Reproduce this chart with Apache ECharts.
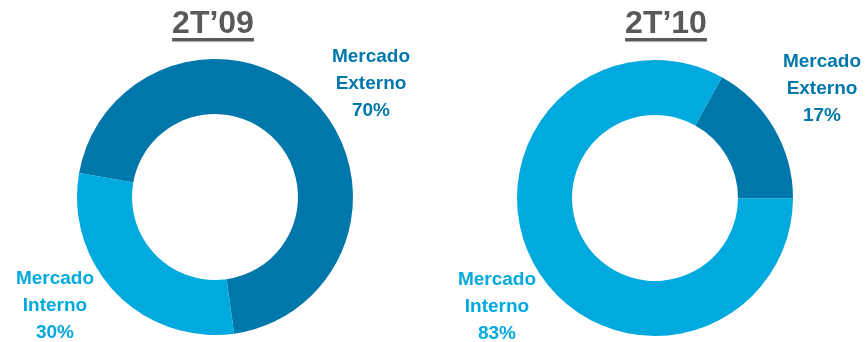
<!DOCTYPE html>
<html lang="pt">

<head>
  <meta charset="UTF-8">
  <title>Mercado</title>
  <style>
    html,
    body {
      width: 100%;
      height: 100%;
      padding: 0;
      margin: 0;
      background: #fff;
    }

    #eChart {
      width: 866px;
      height: 342px;
    }
  </style>
</head>

<body>
  <div id="eChart"></div>

  <script src="https://cdn.jsdelivr.net/npm/echarts@6/dist/echarts.min.js"></script>
  <script>
    // dados
    var periods = ['2T\u201909', '2T\u201910'];
    var categories = ['Mercado Externo', 'Mercado Interno'];
    var externo = [70, 17];
    var interno = [30, 83];

    var darkBlue = '#0077AA';
    var lightBlue = '#00A9DE';
    var font = 'Arial, "Liberation Sans", sans-serif';

    // layout of each donut and where its labels sit
    var pies = [
      { center: [215, 197], startAngle: 170, labels: [[371, 84], [55, 306]], titleX: 213 },
      { center: [655, 198], startAngle: 61, labels: [[822, 89], [497, 307]], titleX: 666 }
    ];

    var chart = echarts.init(document.getElementById('eChart'), null, { renderer: 'canvas' });

    var ctx = document.createElement('canvas').getContext('2d');
    ctx.font = 'bold 32px ' + font;

    var series = [];
    var graphic = [];

    periods.forEach(function (p, i) {
      var cfg = pies[i];
      series.push({
        type: 'pie',
        center: cfg.center,
        radius: [83, 138],
        startAngle: cfg.startAngle,
        clockwise: true,
        silent: true,
        animation: false,
        label: {
          show: true,
          position: 'outside',
          overflow: 'none',
          width: 200,
          fontFamily: font,
          fontWeight: 'bold',
          fontSize: 19,
          lineHeight: 27,
          align: 'center',
          formatter: function (d) {
            return d.name.replace(' ', '\n') + '\n' + d.value + '%';
          }
        },
        labelLine: { show: false },
        labelLayout: function (params) {
          var pos = cfg.labels[params.dataIndex];
          return { x: pos[0], y: pos[1], align: 'center', verticalAlign: 'middle' };
        },
        data: [
          {
            name: categories[0], value: externo[i],
            itemStyle: { color: darkBlue },
            label: { color: darkBlue }
          },
          {
            name: categories[1], value: interno[i],
            itemStyle: { color: lightBlue },
            label: { color: lightBlue }
          }
        ]
      });

      var w = ctx.measureText(p).width;
      graphic.push({
        type: 'text',
        x: cfg.titleX,
        y: 24,
        style: {
          text: p,
          font: 'bold 32px ' + font,
          fill: '#595959',
          align: 'center',
          verticalAlign: 'middle'
        }
      });
      graphic.push({
        type: 'rect',
        shape: { x: cfg.titleX - w / 2, y: 38, width: w, height: 3.5 },
        style: { fill: '#595959' }
      });
    });

    chart.setOption({
      backgroundColor: '#fff',
      animation: false,
      graphic: graphic,
      series: series
    });
  </script>
</body>

</html>
